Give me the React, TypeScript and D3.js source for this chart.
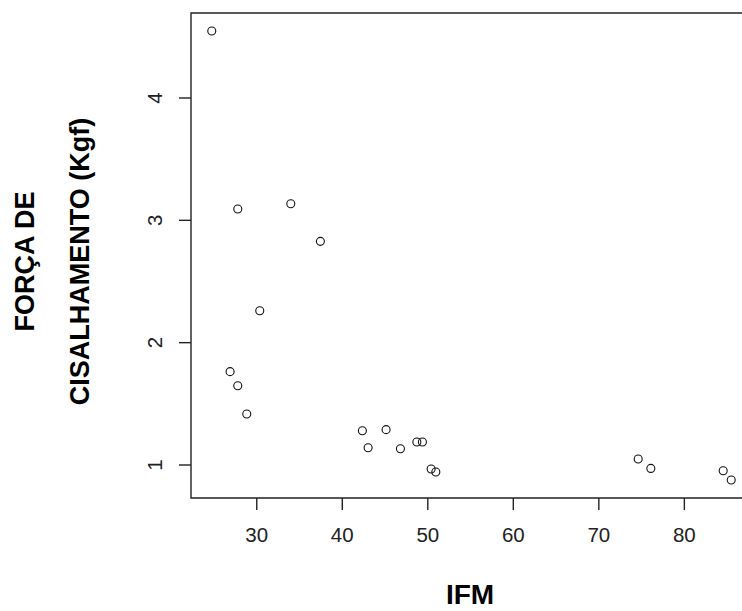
import React from "react";
import * as d3 from "d3";

const ifm = [24.74, 27.78, 33.98, 37.44, 30.35, 26.88, 27.78, 28.83, 42.35, 43.02, 45.12, 46.8, 48.72, 49.37, 50.39, 50.94, 74.6, 76.08, 84.54, 85.48];
const forca = [4.548, 3.093, 3.136, 2.828, 2.261, 1.763, 1.648, 1.417, 1.28, 1.141, 1.289, 1.133, 1.188, 1.188, 0.967, 0.943, 1.049, 0.972, 0.953, 0.877];
const xTicks = [30, 40, 50, 60, 70, 80];
const yTicks = [1, 2, 3, 4];
const xTitle = "IFM";
const yTitleLines = ["FORÇA DE", "CISALHAMENTO (Kgf)"];

const W = 742;
const H = 611;
const left = 191;
const right = 752;
const top = 13;
const bottom = 498;

function padded(vals: number[]): [number, number] {
  const [a, b] = d3.extent(vals) as [number, number];
  const e = (b - a) * 0.04;
  return [a - e, b + e];
}

export default function App() {
  const x = d3.scaleLinear().domain(padded(ifm)).range([left, right]);
  const y = d3.scaleLinear().domain(padded(forca)).range([bottom, top]);
  const font = "Arial, 'Liberation Sans', Helvetica, sans-serif";
  const axisColor = "#222";
  const yMid = (top + bottom) / 2 + 6;
  return (
    <svg
      width={W}
      height={H}
      style={{ position: "absolute", left: 0, top: 0, background: "#fff" }}
      fontFamily={font}
    >
      <rect x={0} y={0} width={W} height={H} fill="#fff" />
      {/* box */}
      <path
        d={`M${right},${top}H${left}V${bottom}H${right}`}
        fill="none"
        stroke={axisColor}
        strokeWidth={1.4}
      />
      {/* x ticks */}
      {xTicks.map((t) => (
        <g key={"x" + t}>
          <line x1={x(t)} x2={x(t)} y1={bottom} y2={bottom + 12} stroke={axisColor} strokeWidth={1.4} />
          <text x={x(t)} y={542} fontSize={20.5} textAnchor="middle" fill="#222">
            {t}
          </text>
        </g>
      ))}
      {/* y ticks */}
      {yTicks.map((t) => (
        <g key={"y" + t}>
          <line x1={left - 12} x2={left} y1={y(t)} y2={y(t)} stroke={axisColor} strokeWidth={1.4} />
          <text
            transform={`translate(162,${y(t)}) rotate(-90)`}
            fontSize={20.5}
            textAnchor="middle"
            fill="#222"
          >
            {t}
          </text>
        </g>
      ))}
      {/* points */}
      {ifm.map((v, i) => (
        <circle
          key={i}
          cx={x(v)}
          cy={y(forca[i])}
          r={4}
          fill="none"
          stroke="#111"
          strokeWidth={1.1}
        />
      ))}
      {/* titles */}
      <text x={470} y={604} fontSize={28} fontWeight="bold" textAnchor="middle" fill="#000">
        {xTitle}
      </text>
      <text
        transform={`translate(34,${yMid}) rotate(-90)`}
        fontSize={27}
        fontWeight="bold"
        textAnchor="middle"
        fill="#000"
      >
        {yTitleLines[0]}
      </text>
      <text
        transform={`translate(89,${yMid}) rotate(-90)`}
        fontSize={27}
        fontWeight="bold"
        textAnchor="middle"
        fill="#000"
      >
        {yTitleLines[1]}
      </text>
    </svg>
  );
}
